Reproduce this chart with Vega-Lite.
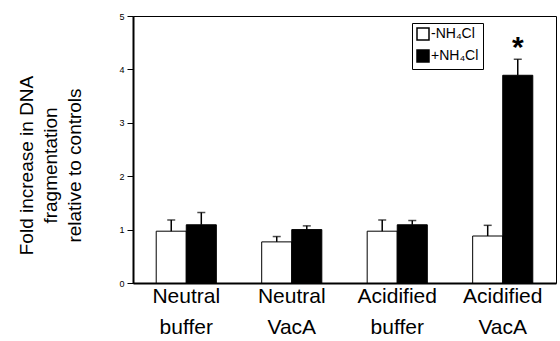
{
  "$schema": "https://vega.github.io/schema/vega-lite/v6.json",
  "width": 423,
  "height": 267,
  "autosize": "none",
  "padding": {"left": 133, "top": 16, "right": 4, "bottom": 58},
  "background": "white",
  "config": {
    "view": {"stroke": "black", "strokeWidth": 1},
    "font": "Liberation Sans"
  },
  "data": {
    "values": [
      {"group": "Neutral buffer", "cond": "-NH₄Cl", "value": 0.97, "hi": 1.18},
      {"group": "Neutral buffer", "cond": "+NH₄Cl", "value": 1.09, "hi": 1.32},
      {"group": "Neutral VacA", "cond": "-NH₄Cl", "value": 0.77, "hi": 0.87},
      {"group": "Neutral VacA", "cond": "+NH₄Cl", "value": 1.0, "hi": 1.07},
      {"group": "Acidified buffer", "cond": "-NH₄Cl", "value": 0.97, "hi": 1.18},
      {"group": "Acidified buffer", "cond": "+NH₄Cl", "value": 1.09, "hi": 1.17},
      {"group": "Acidified VacA", "cond": "-NH₄Cl", "value": 0.88, "hi": 1.08},
      {"group": "Acidified VacA", "cond": "+NH₄Cl", "value": 3.89, "hi": 4.19, "star": "*"}
    ]
  },
  "encoding": {
    "x": {
      "field": "group",
      "type": "nominal",
      "sort": ["Neutral buffer", "Neutral VacA", "Acidified buffer", "Acidified VacA"],
      "scale": {"paddingInner": 0.43, "paddingOuter": 0.22},
      "axis": {
        "title": null,
        "labelAngle": 0,
        "labelExpr": "split(datum.label, ' ')",
        "labelFontSize": 21,
        "labelColor": "black",
        "labelLineHeight": 31,
        "labelPadding": 2,
        "ticks": false,
        "domainColor": "black",
        "domainWidth": 2
      }
    },
    "xOffset": {
      "field": "cond",
      "type": "nominal",
      "sort": ["-NH₄Cl", "+NH₄Cl"]
    }
  },
  "layer": [
    {
      "mark": {"type": "bar", "stroke": "black", "strokeWidth": 1},
      "encoding": {
        "y": {
          "field": "value",
          "type": "quantitative",
          "scale": {"domain": [0, 5]},
          "axis": {
            "values": [0, 1, 2, 3, 4, 5],
            "title": ["Fold increase in DNA", "fragmentation", "relative to controls"],
            "titleFontSize": 19,
            "titleFontWeight": "normal",
            "titleColor": "black",
            "titleLineHeight": 24,
            "titleAngle": -90,
            "titleAlign": "center",
            "titleBaseline": "middle",
            "titleX": -107,
            "titleY": 149,
            "labelFontSize": 9,
            "labelColor": "black",
            "tickColor": "black",
            "tickSize": 6,
            "labelPadding": 3,
            "grid": false,
            "domainColor": "black",
            "domainWidth": 2
          }
        },
        "fill": {
          "field": "cond",
          "type": "nominal",
          "sort": ["-NH₄Cl", "+NH₄Cl"],
          "scale": {"domain": ["-NH₄Cl", "+NH₄Cl"], "range": ["white", "black"]},
          "legend": {
            "title": null,
            "orient": "none",
            "legendX": 279,
            "legendY": 7,
            "strokeColor": "black",
            "padding": 4,
            "symbolType": "square",
            "symbolSize": 144,
            "symbolStrokeColor": "black",
            "symbolStrokeWidth": 1.5,
            "labelFontSize": 14,
            "labelColor": "black",
            "labelOffset": 1,
            "rowPadding": 4
          }
        }
      }
    },
    {
      "mark": {"type": "rule", "color": "black", "strokeWidth": 1.5},
      "encoding": {
        "y": {"field": "value", "type": "quantitative"},
        "y2": {"field": "hi"}
      }
    },
    {
      "mark": {"type": "tick", "color": "black", "size": 8, "thickness": 1.5},
      "encoding": {
        "y": {"field": "hi", "type": "quantitative"}
      }
    },
    {
      "transform": [{"filter": "datum.star"}],
      "mark": {"type": "text", "fontSize": 30, "fontWeight": "bold", "baseline": "middle", "color": "black"},
      "encoding": {
        "y": {"datum": 4.4, "type": "quantitative"},
        "text": {"field": "star"}
      }
    }
  ]
}
